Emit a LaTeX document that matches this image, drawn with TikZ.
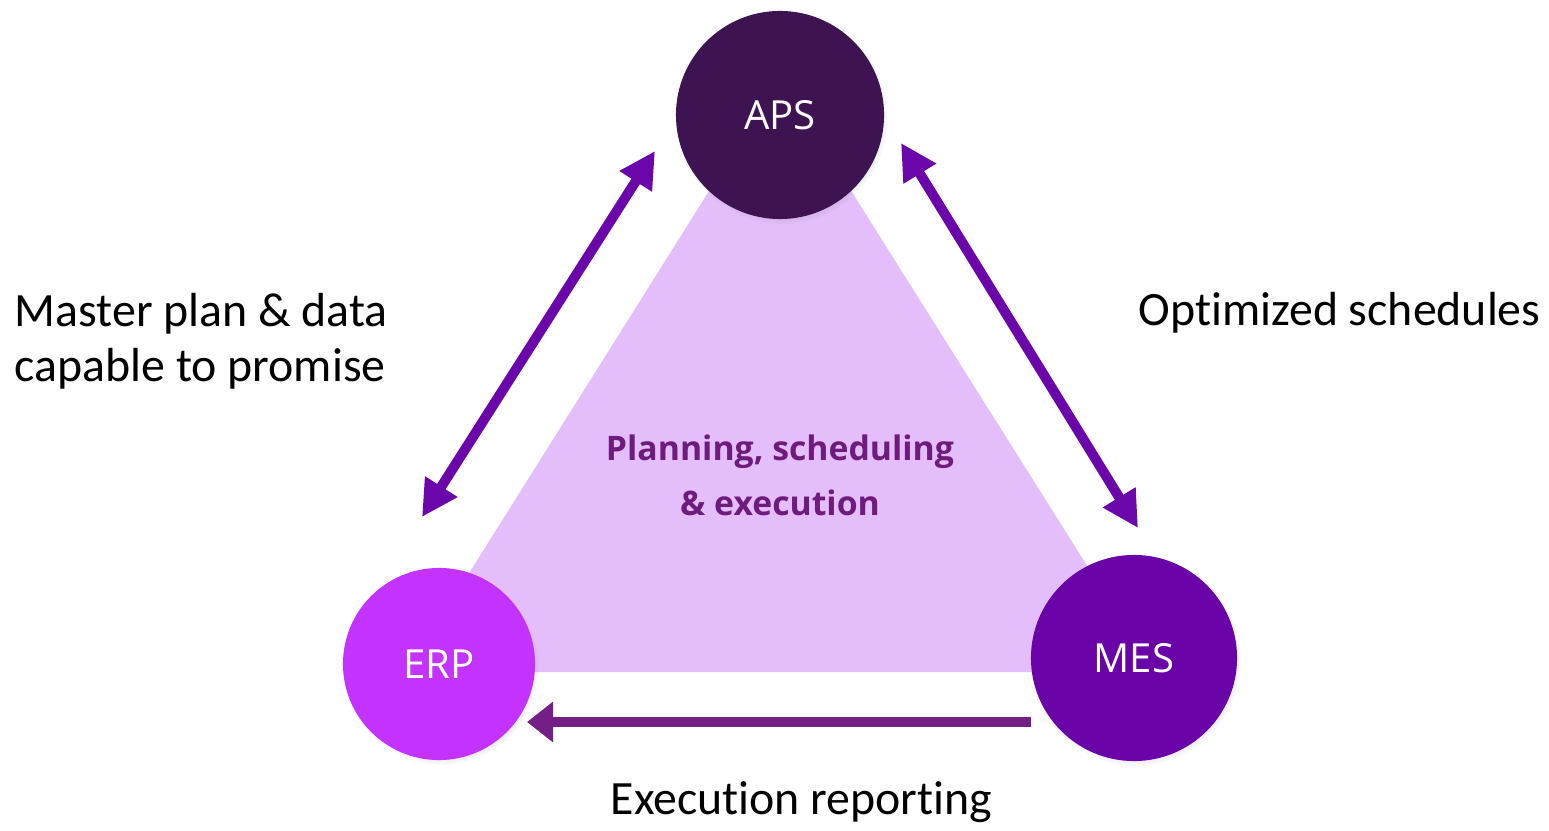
\documentclass[tikz,border=0pt]{standalone}
\usepackage{fontspec}
\setmainfont{Carlito}[Ligatures=NoCommon]
\newfontfamily\opensans{Open Sans}
\usetikzlibrary{arrows.meta,shadows}

\definecolor{apscol}{HTML}{3E1351}
\definecolor{erpcol}{HTML}{C332FE}
\definecolor{mescol}{HTML}{6A04A8}
\definecolor{tricol}{HTML}{E3BEFA}
\definecolor{arrcol}{HTML}{6A06AA}
\definecolor{botcol}{HTML}{741F85}
\definecolor{txtcol}{HTML}{6F1B7D}

\tikzset{
  sys/.style={circle, text=white, font=\opensans\fontsize{11.4}{13}\selectfont,
    circular drop shadow={shadow scale=1.02, shadow xshift=0.02cm,
      shadow yshift=-0.03cm, opacity=0.35}},
  link/.style={{Triangle[length=0.36cm,width=0.36cm]}-{Triangle[length=0.36cm,width=0.36cm]},
    line width=0.1cm, draw=arrcol},
  back/.style={-{Triangle[length=0.26cm,width=0.39cm]}, line width=0.1cm, draw=botcol},
  note/.style={font=\fontsize{13.6}{15.6}\selectfont, inner sep=0pt}
}

\begin{document}
\begin{tikzpicture}[x=0.01cm, y=-0.01cm]
\useasboundingbox (0,0) rectangle (1549,831);
% shared area
\fill[tricol] (407,672) -- (1154,672) -- (780,78) -- cycle;

% systems
\node[sys, fill=apscol, minimum size=2.08cm] (aps) at (780,115) {APS};
\node[sys, fill=erpcol, minimum size=1.92cm] (erp) at (439,664) {ERP};
\node[sys, fill=mescol, minimum size=2.06cm] (mes) at (1134,658) {MES};

% links
\draw[link] ([shift={(-17,-147)}]erp.center) -- ([shift={(-125,36)}]aps.center);
\draw[link] ([shift={(121,28)}]aps.center) -- ([shift={(4,-130)}]mes.center);
\draw[back] ([shift={(-103,64)}]mes.center) -- ([shift={(88,58)}]erp.center);

% texts
\node[note, anchor=west, align=left] (plan) at (14,341) {Master plan \& data\\capable to promise};
\node[note, anchor=base west] (sched) at (1138,326) {Optimized schedules};
\node[note, anchor=base west] (report) at (610,814) {Execution reporting};
\node[font=\opensans\bfseries\fontsize{9.6}{15.6}\selectfont, text=txtcol, align=center,
  inner sep=0pt] (core) at (780,475) {Planning, scheduling\\\& execution};
\end{tikzpicture}
\end{document}
